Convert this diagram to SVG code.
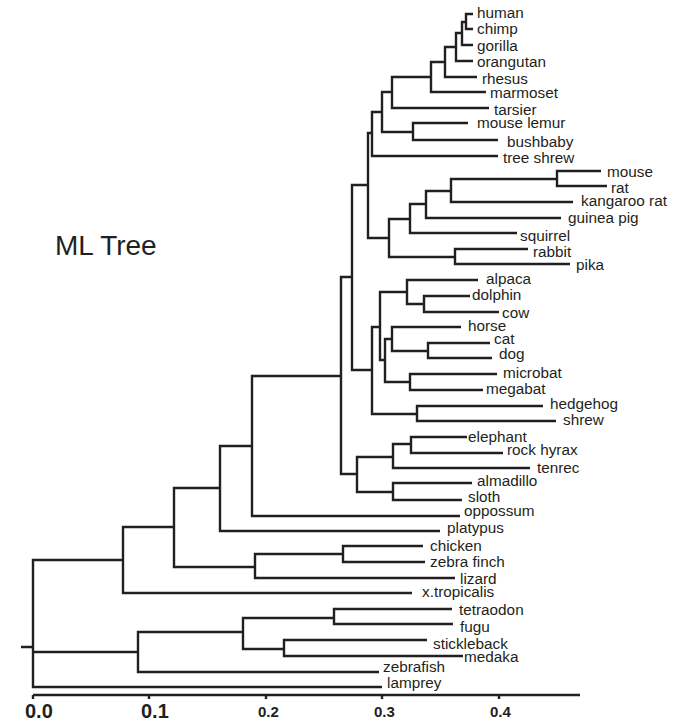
<svg xmlns="http://www.w3.org/2000/svg" width="694" height="722" viewBox="0 0 694 722">
<style>
.br{fill:none;stroke:#231f20;stroke-width:2.4;stroke-linecap:butt;stroke-linejoin:miter}
.lb{font-family:"Liberation Sans",Arial,sans-serif;font-size:15.3px;fill:#231f20}
.ax{font-family:"Liberation Sans",Arial,sans-serif;font-weight:bold;fill:#231f20}
</style>
<rect width="694" height="722" fill="#ffffff"/>
<text x="55" y="255" font-family="Liberation Sans, Arial, sans-serif" font-size="28" fill="#231f20">ML Tree</text>
<g id="connectors" class="br">
<path d="M382 687H33V560H123M33 652H138M21 647H33"/>
<path d="M174 527H123V593H412"/>
<path d="M220 488H174V567H255"/>
<path d="M343 554H255V578H455"/>
<path d="M423 546H343V562H425"/>
<path d="M252 446H220V531H440"/>
<path d="M341 376H252V516H460"/>
<path d="M352 277H341V474H357"/>
<path d="M393 457H357V492H393"/>
<path d="M411 444H393V468H530"/>
<path d="M467 437H411V453H503"/>
<path d="M472 483H393V500H462"/>
<path d="M368 185H352V370H372"/>
<path d="M380 327H372V414H417"/>
<path d="M543 406H417V421H556"/>
<path d="M407 292H380V360H385"/>
<path d="M478 280H407V304H424"/>
<path d="M470 296H424V312H499"/>
<path d="M392 339H385V382H410"/>
<path d="M461 327H392V351H428"/>
<path d="M490 343H428V358H492"/>
<path d="M497 374H410V390H483"/>
<path d="M372 133H368V238H389"/>
<path d="M382 112H372V156H498"/>
<path d="M392 92H382V132H413"/>
<path d="M468 123H413V140H498"/>
<path d="M431 77H392V108H489"/>
<path d="M445 62H431V92H486"/>
<path d="M456 47H445V77H477"/>
<path d="M462 33H456V61H473"/>
<path d="M466 22H462V45H473"/>
<path d="M473 14H466V29H473"/>
<path d="M410 219H389V257H455"/>
<path d="M528 249H455V264H570"/>
<path d="M426 204H410V233H517"/>
<path d="M451 191H426V218H561"/>
<path d="M557 179H451V202H573"/>
<path d="M601 171H557V186H607"/>
<path d="M243 632H138V672H379"/>
<path d="M334 618H243V649H284"/>
<path d="M452 609H334V624H453"/>
<path d="M427 640H284V656H463"/>
</g>
<g id="axis">
<path class="br" d="M33 695H580M33 695V699M149 695V699M266 695V699M382 695V699M499 695V699"/>
<text class="ax" x="25" y="718" font-size="20">0.0</text>
<text class="ax" x="141" y="718" font-size="20">0.1</text>
<text class="ax" x="258" y="717" font-size="15">0.2</text>
<text class="ax" x="374" y="717" font-size="15">0.3</text>
<text class="ax" x="490" y="717" font-size="15">0.4</text>
</g>
<g id="human"><text class="lb" x="477" y="18">human</text></g>
<g id="chimp"><text class="lb" x="477" y="34">chimp</text></g>
<g id="gorilla"><text class="lb" x="477" y="51">gorilla</text></g>
<g id="orangutan"><text class="lb" x="477" y="67">orangutan</text></g>
<g id="rhesus"><text class="lb" x="482" y="84">rhesus</text></g>
<g id="marmoset"><text class="lb" x="490" y="98">marmoset</text></g>
<g id="tarsier"><text class="lb" x="494" y="115">tarsier</text></g>
<g id="mouse_lemur"><text class="lb" x="477" y="128">mouse lemur</text></g>
<g id="bushbaby"><text class="lb" x="507" y="147">bushbaby</text></g>
<g id="tree_shrew"><text class="lb" x="503" y="163">tree shrew</text></g>
<g id="mouse"><text class="lb" x="607" y="177">mouse</text></g>
<g id="rat"><text class="lb" x="611" y="193">rat</text></g>
<g id="kangaroo_rat"><text class="lb" x="581" y="206">kangaroo rat</text></g>
<g id="guinea_pig"><text class="lb" x="568" y="223">guinea pig</text></g>
<g id="squirrel"><text class="lb" x="520" y="241">squirrel</text></g>
<g id="rabbit"><text class="lb" x="533" y="257">rabbit</text></g>
<g id="pika"><text class="lb" x="576" y="270">pika</text></g>
<g id="alpaca"><text class="lb" x="486" y="284">alpaca</text></g>
<g id="dolphin"><text class="lb" x="472" y="300">dolphin</text></g>
<g id="cow"><text class="lb" x="502" y="318">cow</text></g>
<g id="horse"><text class="lb" x="468" y="331">horse</text></g>
<g id="cat"><text class="lb" x="494" y="344">cat</text></g>
<g id="dog"><text class="lb" x="499" y="359">dog</text></g>
<g id="microbat"><text class="lb" x="503" y="378">microbat</text></g>
<g id="megabat"><text class="lb" x="486" y="394">megabat</text></g>
<g id="hedgehog"><text class="lb" x="550" y="409">hedgehog</text></g>
<g id="shrew"><text class="lb" x="563" y="425">shrew</text></g>
<g id="elephant"><text class="lb" x="468" y="442">elephant</text></g>
<g id="rock_hyrax"><text class="lb" x="507" y="455">rock hyrax</text></g>
<g id="tenrec"><text class="lb" x="537" y="473">tenrec</text></g>
<g id="almadillo"><text class="lb" x="477" y="486">almadillo</text></g>
<g id="sloth"><text class="lb" x="468" y="502">sloth</text></g>
<g id="oppossum"><text class="lb" x="464" y="516">oppossum</text></g>
<g id="platypus"><text class="lb" x="447" y="533">platypus</text></g>
<g id="chicken"><text class="lb" x="430" y="551">chicken</text></g>
<g id="zebra_finch"><text class="lb" x="430" y="567">zebra finch</text></g>
<g id="lizard"><text class="lb" x="460" y="584">lizard</text></g>
<g id="x_tropicalis"><text class="lb" x="422" y="597">x.tropicalis</text></g>
<g id="tetraodon"><text class="lb" x="459" y="615">tetraodon</text></g>
<g id="fugu"><text class="lb" x="460" y="632">fugu</text></g>
<g id="stickleback"><text class="lb" x="433" y="649">stickleback</text></g>
<g id="medaka"><text class="lb" x="464" y="662">medaka</text></g>
<g id="zebrafish"><text class="lb" x="383" y="672">zebrafish</text></g>
<g id="lamprey"><text class="lb" x="387" y="688">lamprey</text></g>
</svg>
